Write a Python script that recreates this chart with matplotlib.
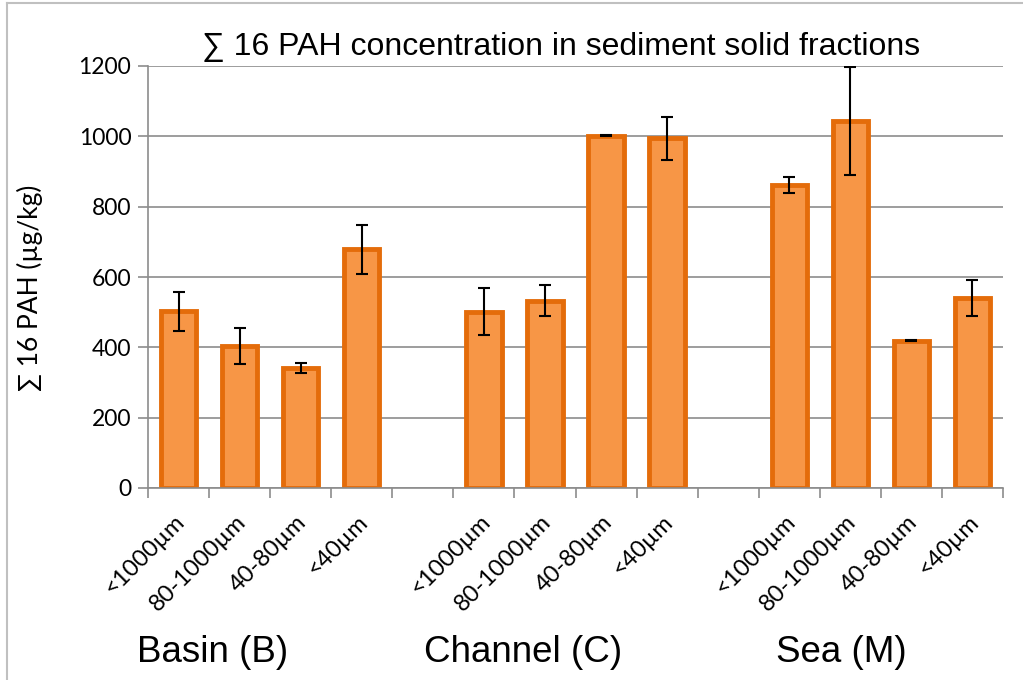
import numpy as np
import matplotlib
matplotlib.use('Agg')
import matplotlib.pyplot as plt
from matplotlib.lines import Line2D
import matplotlib.transforms as mtransforms

# data
groups = ['Basin (B)', 'Channel (C)', 'Sea (M)']
fractions = ['<1000µm', '80-1000µm', '40-80µm', '<40µm']
basin = [502, 403, 341, 679]
basin_err = [56, 51, 14, 70]
channel = [501, 533, 1002, 994]
channel_err = [67, 45, 2, 62]
sea = [862, 1043, 419, 540]
sea_err = [22, 153, 2, 51]

values = basin + [np.nan] + channel + [np.nan] + sea
errors = basin_err + [0] + channel_err + [0] + sea_err
labels = fractions + [''] + fractions + [''] + fractions
x = np.arange(len(values))

fig = plt.figure(figsize=(10.23, 6.8), dpi=100)
ax = fig.add_axes([148/1023, 1-488/680, 855/1023, 422/680])

ax.yaxis.grid(True, color='#8c8c8c', lw=1.2)
ax.set_axisbelow(True)
mask = ~np.isnan(values)
ax.bar(x[mask], np.array(values)[mask], width=0.58, color='#F79646',
       edgecolor='#E46C0A', linewidth=3.5, zorder=2)
ax.errorbar(x[mask], np.array(values)[mask], yerr=np.array(errors)[mask],
            fmt='none', ecolor='black', elinewidth=1.5, capsize=4.5, capthick=1.5, zorder=3)

ax.set_xlim(-0.5, len(values) - 0.5)
ax.set_ylim(0, 1200)
ax.set_yticks(np.arange(0, 1201, 200))
ax.tick_params(axis='y', labelsize=16.5, length=7, color='#8c8c8c', width=1.2, pad=5)
for t in ax.get_yticklabels():
    t.set_family('Lato')

# category boundary ticks on the x axis
ax.set_xticks(np.arange(-0.5, len(values), 1))
ax.set_xticklabels([])
ax.tick_params(axis='x', length=7, color='#8c8c8c', width=1.2)
for i, lab in enumerate(labels):
    if lab:
        ax.text(i - 0.08, -0.055, lab, transform=ax.get_xaxis_transform(),
                rotation=45, ha='right', va='top', rotation_mode='anchor',
                fontsize=17, family='Lato')

for s in ['top', 'right']:
    ax.spines[s].set_visible(False)
for s in ['left', 'bottom']:
    ax.spines[s].set_color('#8c8c8c')
    ax.spines[s].set_linewidth(1.2)

ax.set_ylabel('∑ 16 PAH (µg/kg)', fontsize=19, family=['Lato', 'DejaVu Sans'], va='center')
ax.yaxis.set_label_coords((30 - 148) / 855, (488 - 288) / 422)
fig.text(0.548, 1-47/680, '∑ 16 PAH concentration in sediment solid fractions',
         ha='center', va='center', fontsize=23, family=['Liberation Sans', 'DejaVu Sans'])

group_x = [0.55, 5.64, 10.86]
trans = mtransforms.blended_transform_factory(ax.transData, fig.transFigure)
for gx, g in zip(group_x, groups):
    fig.text(gx, 1-653/680, g, transform=trans, ha='center', va='center',
             fontsize=26.5, family='Liberation Sans')

# outer frame (top and left visible)
fig.add_artist(Line2D([7/1023, 7/1023], [0, 1-3/680], color='#c0c0c0', lw=1.5,
                      transform=fig.transFigure))
fig.add_artist(Line2D([7/1023, 1], [1-3/680, 1-3/680], color='#c0c0c0', lw=1.5,
                      transform=fig.transFigure))

fig.savefig('out.png', dpi=100)
